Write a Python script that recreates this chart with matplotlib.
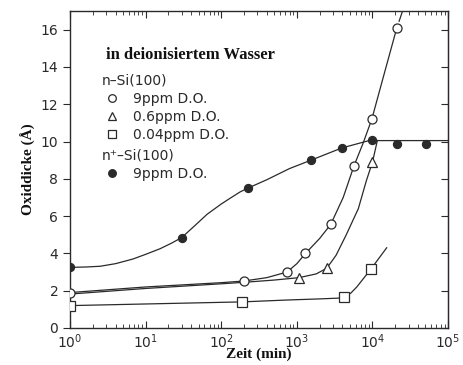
import matplotlib.pyplot as plt
from matplotlib.lines import Line2D

# measured points (time in min, thickness in Angstrom)
t_open = [1, 200, 740, 1300, 2800, 5700, 9800, 21000]
y_open = [1.9, 2.5, 3.0, 4.0, 5.55, 8.7, 11.2, 16.1]
t_tri = [1070, 2480, 10000]
y_tri = [2.7, 3.2, 8.9]
t_sq = [1, 190, 4250, 9500]
y_sq = [1.2, 1.4, 1.65, 3.15]
t_fill = [1, 30, 225, 1540, 3900, 10000, 21000, 51000]
y_fill = [3.25, 4.85, 7.5, 9.0, 9.65, 10.1, 9.87, 9.87]

# hand-drawn guide curves
c_open_t = [1, 10, 100, 200, 400, 740, 1000, 1300, 2000, 2800, 4100, 5700, 7500, 9800, 14000, 21000]
c_open_y = [1.9, 2.2, 2.43, 2.52, 2.7, 3.0, 3.45, 4.0, 4.8, 5.55, 7.0, 8.7, 9.9, 11.2, 13.5, 16.1]
c_open_dash_t = [22500, 25000]
c_open_dash_y = [16.45, 17.0]
c_tri_t = [1, 10, 100, 200, 500, 1070, 1800, 2480, 3300, 4500, 6500, 8300, 10000, 11600]
c_tri_y = [1.82, 2.12, 2.37, 2.45, 2.57, 2.7, 2.9, 3.2, 3.9, 5.0, 6.4, 7.9, 8.9, 10.05]
c_sq_t = [1, 190, 740, 2000, 3500, 4250, 5200, 6200, 9500, 15400]
c_sq_y = [1.2, 1.4, 1.5, 1.56, 1.6, 1.65, 1.88, 2.2, 3.15, 4.3]
c_fill_t = [1, 1.6, 2.5, 4, 6.8, 10, 15.5, 22, 30, 45, 65, 100, 130, 178, 225,
            400, 800, 1540, 3900, 10000, 11600, 100000]
c_fill_y = [3.25, 3.27, 3.31, 3.45, 3.7, 3.95, 4.25, 4.55, 4.85, 5.5, 6.1, 6.65, 6.95, 7.3, 7.5,
            7.95, 8.55, 9.0, 9.65, 10.1, 10.05, 10.05]

yticks = [0, 2, 4, 6, 8, 10, 12, 14, 16]

ink = '#2a2a2a'
fig = plt.figure(figsize=(4.64, 3.65), dpi=100)
ax = fig.add_axes([0.151, 0.1014, 0.8147, 0.8685])

lw = 0.9
for ct, cy in [(c_open_t, c_open_y), (c_tri_t, c_tri_y), (c_sq_t, c_sq_y), (c_fill_t, c_fill_y)]:
    ax.plot(ct, cy, color=ink, lw=lw, zorder=2)
ax.plot(c_open_dash_t, c_open_dash_y, color=ink, lw=lw, zorder=2)

mk = dict(linestyle='none', markeredgecolor=ink, markeredgewidth=0.9, zorder=3)
ax.plot(t_open, y_open, marker='o', markersize=6.5, markerfacecolor='white', **mk)
ax.plot(t_tri, y_tri, marker='^', markersize=6.5, markerfacecolor='white', **mk)
ax.plot(t_sq, y_sq, marker='s', markersize=6.8, markerfacecolor='white', **mk)
ax.plot(t_fill, y_fill, marker='o', markersize=5.8, markerfacecolor=ink, **mk)

ax.set_xscale('log')
ax.set_xlim(1, 1e5)
ax.set_ylim(0, 17)
ax.set_yticks(yticks)

for s in ax.spines.values():
    s.set_color(ink)
    s.set_linewidth(1.0)
ax.tick_params(axis='x', which='both', direction='in', top=True, colors=ink, labelsize=10, pad=3)
ax.tick_params(axis='x', which='major', length=5)
ax.tick_params(axis='x', which='minor', length=3)
ax.tick_params(axis='y', direction='out', length=5, colors=ink, labelsize=10)
sec = ax.secondary_yaxis('right')
sec.set_yticks(yticks)
sec.tick_params(direction='in', length=5, labelright=False, colors=ink)
sec.spines['right'].set_color(ink)

serif = dict(family='Liberation Serif', weight='bold', color='#111')
ax.set_xlabel('Zeit (min)', fontsize=11, labelpad=-2, **serif)
ax.set_ylabel('Oxiddicke (Å)', fontsize=11, labelpad=3, **serif)

# legend block
ax.text(0.095, 0.861, 'in deionisiertem Wasser', fontsize=12, va='center', transform=ax.transAxes, **serif)
ax.text(0.085, 0.782, 'n–Si(100)', fontsize=10, color=ink, va='center', transform=ax.transAxes)
ax.text(0.085, 0.5426, 'n⁺–Si(100)', fontsize=10, color=ink, va='center', transform=ax.transAxes)

hmk = dict(color=ink, linestyle='none', markeredgecolor=ink, markeredgewidth=0.9)
h1 = [Line2D([], [], marker='o', markersize=5.5, markerfacecolor='white', **hmk),
      Line2D([], [], marker='^', markersize=5.5, markerfacecolor='white', **hmk),
      Line2D([], [], marker='s', markersize=5.5, markerfacecolor='white', **hmk)]
h2 = [Line2D([], [], marker='o', markersize=5.5, markerfacecolor=ink, **hmk)]
lkw = dict(frameon=False, loc='upper left', handlelength=1.0, handletextpad=1.0,
           borderpad=0, borderaxespad=0, labelspacing=0.3,
           prop={'size': 10}, labelcolor=ink)
leg1 = ax.legend(h1, ['9ppm D.O.', '0.6ppm D.O.', '0.04ppm D.O.'],
                 bbox_to_anchor=(105 / 464, 1 - 92 / 365), bbox_transform=fig.transFigure, **lkw)
ax.add_artist(leg1)
ax.legend(h2, ['9ppm D.O.'], bbox_to_anchor=(105 / 464, 1 - 167 / 365),
          bbox_transform=fig.transFigure, **lkw)

fig.savefig('out.png', dpi=100)
